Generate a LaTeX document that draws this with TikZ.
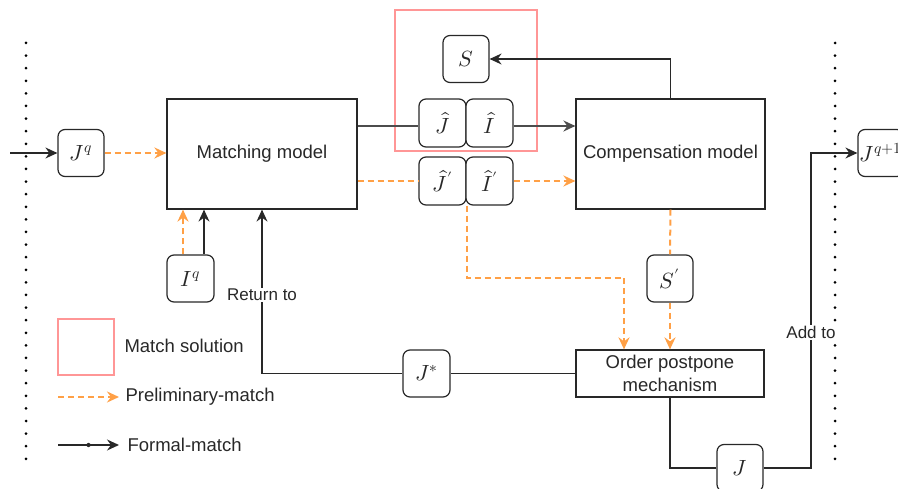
\documentclass[tikz,border=0pt]{standalone}
\usepackage{fontspec}
\usepackage{unicode-math}
\setmainfont{Liberation Sans}
\setmathfont{Latin Modern Math}
\usetikzlibrary{arrows.meta}
\definecolor{ink}{RGB}{40,40,40}
\definecolor{prelim}{RGB}{255,160,70}
\definecolor{solbox}{RGB}{255,150,150}

\begin{document}
\begin{tikzpicture}[x=1pt,y=-1pt,
  every node/.style={text=ink, font=\fontsize{18.5}{22.5}\selectfont},
  rbox/.style={draw=ink, line width=1.2pt, rounded corners=7pt, fill=white,
    minimum width=46pt, minimum height=47pt, inner sep=0pt,
    font=\fontsize{22}{26}\selectfont},
  model/.style={draw=ink, line width=1.2pt, fill=white, inner sep=0pt, align=center},
  formal/.style={draw=ink, line width=1.5pt},
  formalarrow/.style={formal, -{Stealth[length=12pt,width=11pt,inset=4pt]}},
  prelimline/.style={draw=prelim, line width=2pt, dash pattern=on 6pt off 4pt},
  prelimarrow/.style={prelimline, -{Stealth[length=12pt,width=11pt,inset=4pt]}},
  tag/.style={fill=white, inner sep=1pt, font=\fontsize{17}{20}\selectfont},
  dotrule/.style={draw=black, line width=3pt, line cap=round, dash pattern=on 0pt off 12.6pt},
]
\useasboundingbox (0,0) rectangle (898,489);

% period boundaries
\coordinate (lt) at (26,43);  \coordinate (lb) at (26,459);
\coordinate (rt) at (835,43); \coordinate (rb) at (835,459);
\draw[dotrule] (lt) -- (lb);
\draw[dotrule] (rt) -- (rb);

% main blocks
\node[model, minimum width=190pt, minimum height=110pt] (match) at (262,154) {Matching model};
\node[model, minimum width=189pt, minimum height=110pt] (comp) at (670.5,154) {Compensation model};
\node[model, minimum width=188pt, minimum height=47pt] (order) at (670,373.5) {Order postpone\\mechanism};

% variable boxes
\node[rbox] (Jq) at (81,153) {$J^q$};
\node[rbox] (S) at (466,59) {$S$};
\node[rbox, minimum width=47pt, minimum height=48pt] (Jh) at (442.5,123) {$\hat{J}$};
\node[rbox, minimum width=47pt, minimum height=48pt] (Ih) at (489.5,123) {$\hat{I}$};
\node[rbox, minimum width=47pt, minimum height=48pt] (Jp) at (442.5,181) {$\hat{J}'$};
\node[rbox, minimum width=47pt, minimum height=48pt] (Ip) at (489.5,181) {$\hat{I}'$};
\node[rbox] (Sp) at (670,278.5) {$S'$};
\node[rbox, minimum width=47pt] (Iq) at (190.5,278.5) {$I^q$};
\node[rbox, minimum width=47pt] (Js) at (426.5,373.5) {$J^*$};
\node[rbox] (Jb) at (740,468) {$J$};
\node[rbox] (Jq1) at (881,153) {};
\node[font=\fontsize{22}{26}\selectfont] (Jq1t) at (Jq1) {$J^{q+1}$};

% match solution frame
\node[draw=solbox, line width=1.2pt, minimum width=142pt, minimum height=141pt] (sol) at (466,80.5) {};

% formal-match connectors
\coordinate (src) at (10,153);
\draw[formalarrow] (src) -- (Jq.west);
\draw[formal, draw=black!70, line width=2pt] (match.east |- 0,126) -- (Jh.west |- 0,126);
\draw[formalarrow, draw=black!70, line width=2pt] (Ih.east |- 0,126) -- (comp.west |- 0,126);
\draw[formalarrow] (comp.north) |- (S.east);
\draw[formalarrow] ([xshift=13.5pt]Iq.north) -- ([xshift=13.5pt]Iq.north |- match.south);
\draw[formal] (order.west) -- (Js.east);
\draw[formalarrow] (Js.west) -| node[tag, pos=0.74] {Return to} (match.south);
\draw[formal] (order.south) |- (Jb.west);
\coordinate (addx) at (811,0);
\draw[formalarrow] (Jb.east) -- (Jb.east -| addx)
  -- node[tag, pos=0.43] {Add to} (addx |- Jq1) -- (Jq1.west);

% preliminary-match connectors
\draw[prelimarrow] (Jq.east) -- (Jq.east -| match.west);
\draw[prelimline] (match.east |- Jp) -- (Jp.west);
\draw[prelimarrow] (Ip.east) -- (Ip.east -| comp.west);
\draw[prelimarrow] ([xshift=-7.5pt]Iq.north) -- ([xshift=-7.5pt]Iq.north |- match.south);
\draw[prelimarrow] (Jp.south east) -- ++(0,72) -| ([xshift=-46pt]order.north);
\draw[prelimline] (comp.south) -- (Sp.north);
\draw[prelimarrow] (Sp.south) -- (order.north);

% legend
\node[draw=solbox, line width=1.2pt, minimum width=56pt, minimum height=56pt] (lgbox) at (86,347) {};
\node[anchor=west] (lgt1) at (121,346) {Match solution};
\coordinate (lg2a) at (58,397); \coordinate (lg2b) at (119,397);
\draw[prelimarrow] (lg2a) -- (lg2b);
\node[anchor=west] (lgt2) at (122,397) {Preliminary-match};
\coordinate (lg3a) at (58,445); \coordinate (lg3b) at (119,445);
\draw[formalarrow] (lg3a) -- node[circle, fill=ink, inner sep=1.5pt] {} (lg3b);
\node[anchor=west] (lgt3) at (124,445) {Formal-match};
\end{tikzpicture}
\end{document}
